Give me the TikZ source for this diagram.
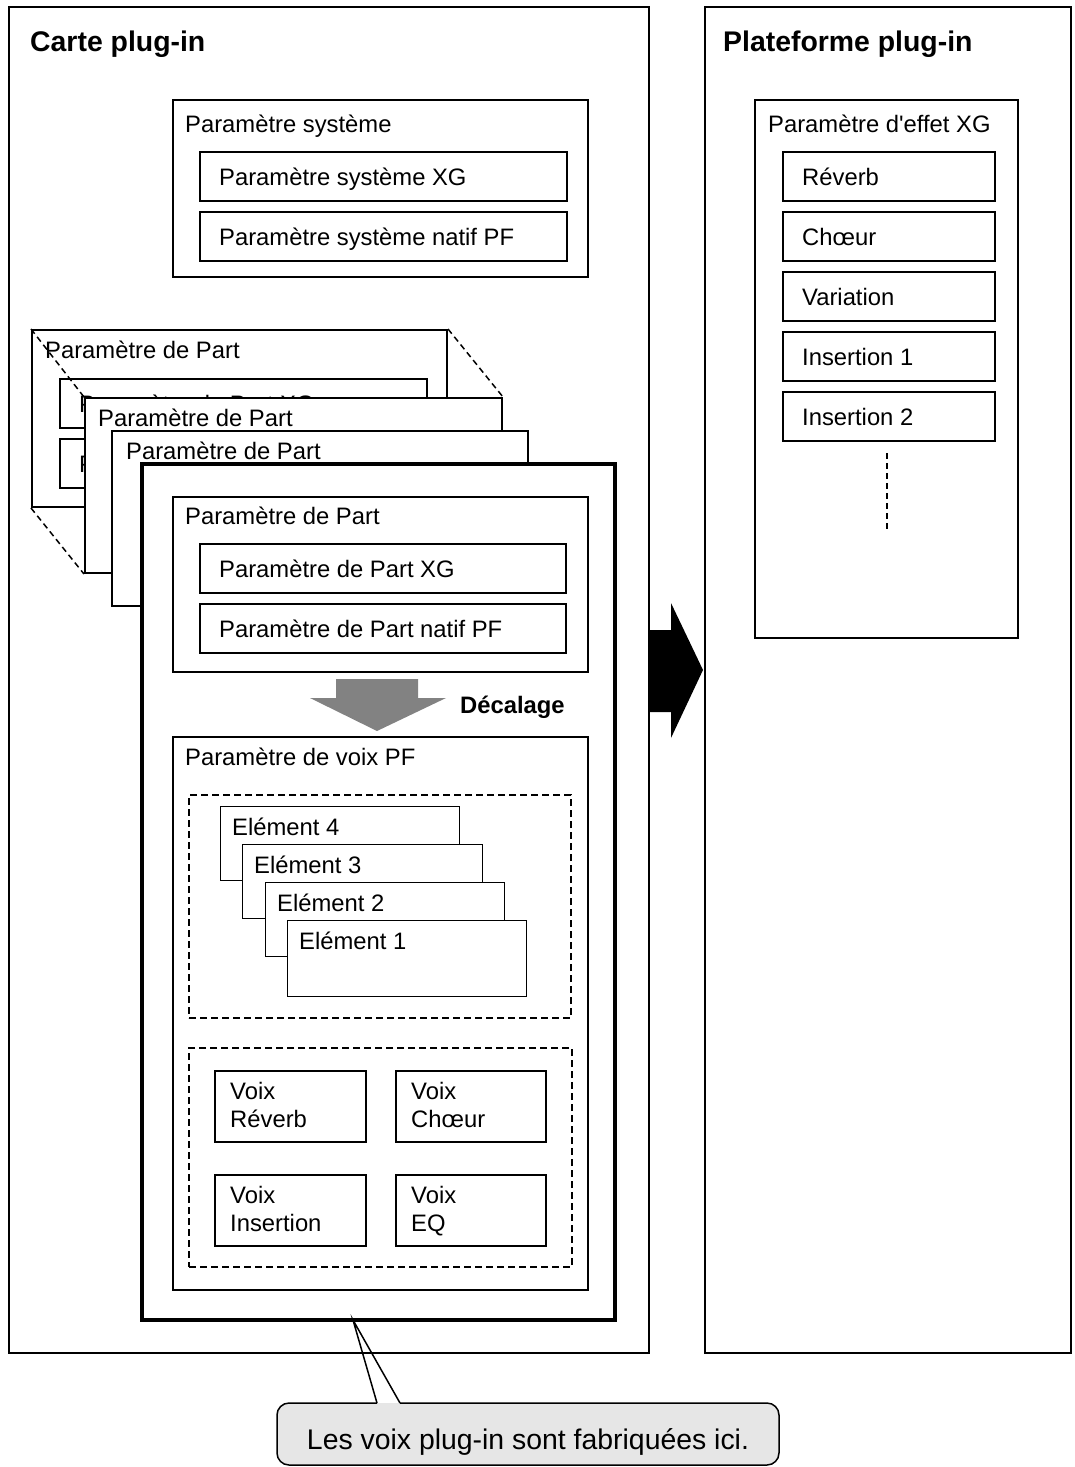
\documentclass[tikz,border=0pt]{standalone}
\usepackage{fontspec}
\setmainfont{Liberation Sans}
\usetikzlibrary{fit}
\definecolor{callgray}{RGB}{230,230,230}
\definecolor{arrgray}{RGB}{130,130,130}
\begin{document}
\begin{tikzpicture}[x=1pt,y=-1pt,
  outerbox/.style={draw, line width=2pt, inner sep=0pt},
  midbox/.style={draw, line width=2pt, fill=white, inner sep=0pt},
  inbox/.style={draw, line width=1.2pt, fill=white, inner sep=0pt},
  thickbox/.style={draw, line width=4pt, fill=white, inner sep=0pt},
  dashbox/.style={draw, line width=2pt, dash pattern=on 7pt off 4pt, inner sep=0pt},
  persp/.style={line width=1.5pt, dash pattern=on 6pt off 4pt},
  lbl/.style={font=\fontsize{23.8}{28.5}\selectfont, inner sep=0pt, anchor=base west},
  boldlbl/.style={font=\fontsize{23.8}{28.5}\selectfont\bfseries, inner sep=0pt, anchor=base west},
  ttl/.style={font=\fontsize{28.4}{34}\selectfont\bfseries, inner sep=0pt, anchor=base west},
  calltext/.style={font=\fontsize{28.4}{34}\selectfont, inner sep=0pt, anchor=base}]
\useasboundingbox (0,0) rectangle (1074,1467);

% outer panels
\node[outerbox, fit={(9,7) (649,1353)}] (carte) {};
\node[outerbox, fit={(705,7) (1071,1353)}] (plat) {};
\node[ttl] (carteT) at (30,51) {Carte plug-in};
\node[ttl] (platT) at (723,51) {Plateforme plug-in};

% systeme
\node[midbox, fit={(173,100) (588,277)}] (sys) {};
\node[lbl] (sysT) at (185,132) {Paramètre système};
\node[inbox, fit={(200,152) (567,201)}] (sysxg) {};
\node[lbl] (sysxgT) at (219,185) {Paramètre système XG};
\node[inbox, fit={(200,212) (567,261)}] (syspf) {};
\node[lbl] (syspfT) at (219,245) {Paramètre système natif PF};

% back part box 1
\node[midbox, fit={(32,330) (447,507)}] (p1) {};
\node[lbl] (p1T) at (45,358) {Paramètre de Part};
\node[inbox, fit={(60,379) (427,428)}] (p1a) {};
\node[lbl] (p1aT) at (79,412) {Paramètre de Part XG};
\node[inbox, fit={(60,439) (427,488)}] (p1b) {};
\node[lbl] (p1bT) at (79,472) {Paramètre de Part natif PF};

% back part box 2 and 3
\node[midbox, fit={(85,398) (502,573)}] (p2) {};
\node[lbl] (p2T) at (98,426) {Paramètre de Part};
\node[midbox, fit={(112,431) (528,606)}] (p3) {};
\node[lbl] (p3T) at (126,459) {Paramètre de Part};

% perspective lines
\draw[persp] (p1.north west) -- (p2.north west);
\draw[persp] (p1.north east) -- (p2.north east);
\draw[persp] (p1.south west) -- (p2.south west);

% front part box
\node[thickbox, fit={(142,464) (615,1320)}] (p4) {};
\node[midbox, fit={(173,497) (588,672)}] (part) {};
\node[lbl] (partT) at (185,524) {Paramètre de Part};
\node[inbox, fit={(200,544) (566,593)}] (partxg) {};
\node[lbl] (partxgT) at (219,577) {Paramètre de Part XG};
\node[inbox, fit={(200,604) (566,653)}] (partpf) {};
\node[lbl] (partpfT) at (219,637) {Paramètre de Part natif PF};

% decalage arrow
\fill[arrgray] (336,679) -- (418,679) -- (418,698) -- (446,698) -- (377,731) -- (310,698) -- (336,698) -- cycle;
\node[boldlbl] (decT) at (460,713) {Décalage};

% voix PF
\node[midbox, fit={(173,737) (588,1290)}] (voix) {};
\node[lbl] (voixT) at (185,765) {Paramètre de voix PF};
\node[dashbox, fit={(189,795) (571,1018)}] (elgrp) {};
\node[inbox, line width=1pt, fit={(220,806) (459,880)}] (e4) {};
\node[lbl] (e4T) at (232,835) {Elément 4};
\node[inbox, line width=1pt, fit={(242,844) (482,918)}] (e3) {};
\node[lbl] (e3T) at (254,873) {Elément 3};
\node[inbox, line width=1pt, fit={(265,882) (504,956)}] (e2) {};
\node[lbl] (e2T) at (277,911) {Elément 2};
\node[inbox, line width=1pt, fit={(287,920) (526,996)}] (e1) {};
\node[lbl] (e1T) at (299,949) {Elément 1};

\node[dashbox, fit={(189,1048) (572,1267)}] (fxgrp) {};
\node[inbox, fit={(215,1071) (366,1142)}] (vr) {};
\node[lbl] (vrA) at (230,1099) {Voix};
\node[lbl] (vrB) at (230,1127) {Réverb};
\node[inbox, fit={(396,1071) (546,1142)}] (vc) {};
\node[lbl] (vcA) at (411,1099) {Voix};
\node[lbl] (vcB) at (411,1127) {Chœur};
\node[inbox, fit={(215,1175) (366,1246)}] (vi) {};
\node[lbl] (viA) at (230,1203) {Voix};
\node[lbl] (viB) at (230,1231) {Insertion};
\node[inbox, fit={(396,1175) (546,1246)}] (ve) {};
\node[lbl] (veA) at (411,1203) {Voix};
\node[lbl] (veB) at (411,1231) {EQ};

% big black arrow
\fill[black] (650,630) -- (671,630) -- (671,603) -- (703,670) -- (671,738) -- (671,712) -- (650,712) -- cycle;

% right panel
\node[midbox, fit={(755,100) (1018,638)}] (eff) {};
\node[lbl] (effT) at (768,132) {Paramètre d\textquotesingle effet XG};
\node[inbox, fit={(783,152) (995,201)}] (rev) {};
\node[lbl] (revT) at (802,185) {Réverb};
\node[inbox, fit={(783,212) (995,261)}] (cho) {};
\node[lbl] (choT) at (802,245) {Chœur};
\node[inbox, fit={(783,272) (995,321)}] (var) {};
\node[lbl] (varT) at (802,305) {Variation};
\node[inbox, fit={(783,332) (995,381)}] (ins1) {};
\node[lbl] (ins1T) at (802,365) {Insertion 1};
\node[inbox, fit={(783,392) (995,441)}] (ins2) {};
\node[lbl] (ins2T) at (802,425) {Insertion 2};
\coordinate (dotA) at (887,453);
\coordinate (dotB) at (887,532);
\draw[line width=2pt, dash pattern=on 6pt off 4pt] (dotA) -- (dotB);

% callout
\fill[callgray, rounded corners=12pt] (277,1403) rectangle (779,1465);
\coordinate (tailL) at (377,1403);
\coordinate (tailR) at (400,1403);
\coordinate (tip) at (353,1320);
\draw[line width=1.5pt, rounded corners=12pt] (tailR) -- (779,1403) -- (779,1465) -- (277,1465) -- (277,1403) -- (tailL);
\draw[line width=1.5pt, line join=miter] (tailL) -- (tip) -- (tailR);
\node[calltext] (callT) at (528,1449) {Les voix plug-in sont fabriquées ici.};
\end{tikzpicture}
\end{document}
